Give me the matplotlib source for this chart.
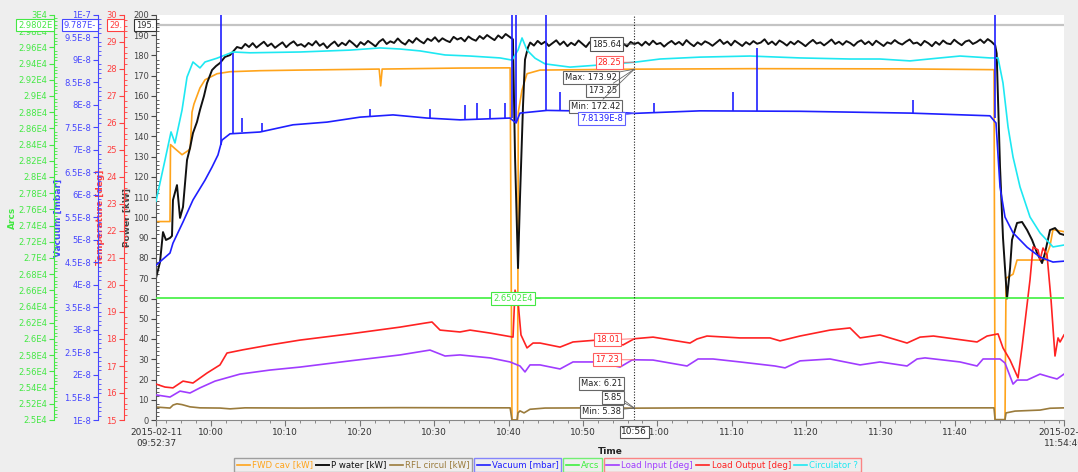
import numpy as np
import pandas as pd
import matplotlib
matplotlib.use('Agg')
import matplotlib.pyplot as plt
import matplotlib.dates as mdates
from matplotlib.ticker import MultipleLocator, FixedLocator, FuncFormatter
from matplotlib.transforms import blended_transform_factory

# time of every sample is given in minutes after the start of the record
T0 = pd.Timestamp('2015-02-11 09:52:37')
T_SPAN = 122.05
CURSOR = 64.3

# FWD cav [kW]
fwd_t = [0.0, 1.88, 1.95, 2.55, 3.5, 4.3, 4.6, 4.84, 5.1, 5.91, 6.59, 8.2, 9.95, 13.98,
         19.36, 30.0, 30.2, 30.4, 40.86, 47.6, 47.85, 48.6, 48.7, 49.2, 49.87, 51.62,
         64.3, 80.0, 100.0, 112.64, 112.78, 114.12, 114.26, 115.2, 115.74, 119.5,
         120.17, 120.57, 122.05]
fwd = [98, 98, 136, 134, 131, 133, 134, 152, 156, 164, 168, 171, 172, 172.5,
       172.8, 173.3, 165, 173.3, 173.8, 173.9, 0, 0, 152, 163, 171, 172.8,
       173.25, 173.5, 173.4, 173.0, 0, 0, 70, 72, 79, 79,
       86, 94, 93]

# P water [kW]: ramp-up, two noisy runs sampled every 0.5 min, trip and shutdown
pw_start_t = [0.0, 0.54, 0.94, 1.34, 1.88, 2.15, 2.28, 2.82, 3.23, 3.63, 4.17, 4.57,
              4.97, 5.51, 5.91, 6.45, 6.86, 7.53, 8.07, 8.6, 9.27, 9.95, 10.89, 11.5]
pw_start = [70.1, 78.0, 92.8, 88.9, 89.9, 90.9, 108.6, 116.0, 99.8, 105.2, 128.4, 134.3,
            141.7, 147.2, 153.1, 160.0, 166.4, 172.8, 174.8, 176.3, 179.3, 180.2, 184.2, 183.5]
pw_run1_start = 12.0
pw_run1 = [185.7, 184.2, 186.1, 183.9, 185.4, 186.8, 184.6, 185.9, 183.8, 185.2, 186.5, 184.1,
           185.8, 187.0, 184.9, 185.6, 184.3, 186.2, 185.0, 187.1, 184.8, 186.0, 183.7, 185.5,
           186.9, 184.6, 186.3, 185.1, 187.4, 185.9, 184.2, 186.6, 185.3, 187.2, 185.9, 184.5,
           186.8, 188.1, 185.7, 187.0, 186.2, 188.4, 186.5, 185.4, 187.7, 186.3, 188.6, 187.1,
           186.0, 188.3, 187.2, 189.0, 186.8, 188.5, 187.4, 186.6, 189.2, 187.9, 188.7, 187.0,
           189.4, 188.1, 187.3, 189.6, 188.2, 190.1, 188.8, 187.6, 189.9, 188.5, 190.6, 189.3]
pw_trip_t = [47.98, 48.26, 48.66, 48.93, 49.33, 49.6, 50.0]
pw_trip = [188.0, 130.0, 75.0, 110.0, 155.0, 178.0, 184.0]
pw_run2_start = 50.3
pw_run2 = [186.4, 184.9, 187.2, 185.6, 186.8, 184.7, 186.1, 187.5, 185.3, 186.9,
           184.6, 186.3, 185.1, 187.4, 185.8, 184.2, 186.6, 185.0, 187.1, 185.7,
           186.9, 184.8, 186.2, 185.3, 187.0, 185.9, 184.5, 186.7, 185.64, 186.4,
           184.9, 186.8, 185.2, 187.3, 185.6, 186.2, 184.4, 186.0, 187.2, 185.5,
           186.7, 185.1, 187.6, 185.9, 184.6, 186.5, 185.3, 187.0, 186.1, 184.8,
           186.3, 187.8, 185.7, 186.9, 185.0, 187.3, 186.0, 184.7, 186.6, 185.4,
           187.1, 185.8, 186.4, 188.0, 185.6, 186.9, 185.2, 187.4, 186.3, 184.9,
           186.8, 185.5, 187.2, 186.0, 184.6, 186.3, 187.7, 185.9, 186.5, 185.0,
           186.4, 187.9, 185.7, 186.8, 185.3, 187.1, 186.2, 184.8, 186.6, 187.5,
           185.6, 186.9, 185.1, 187.3, 186.0, 184.7, 186.5, 185.8, 187.6, 186.2,
           185.4, 186.8, 187.9, 185.9, 186.4, 185.0, 187.2, 186.1, 184.6, 186.7,
           185.3, 187.4, 186.0, 185.6, 187.8, 186.3, 185.1, 186.9, 187.5, 185.7,
           186.6, 187.9, 186.2, 188.1, 186.8]
pw_cursor_idx = 28
pw_end_t = [112.8, 113.0, 113.45, 113.85, 114.39, 114.8, 115.06, 115.74, 116.41, 117.09,
            117.76, 118.43, 119.1, 119.5, 120.17, 120.84, 121.5, 122.05]
pw_end = [185.0, 181.0, 125.0, 90.0, 60.0, 75.0, 89.0, 97.3, 97.8, 93.8,
          88.9, 82.5, 77.5, 82.5, 93.8, 94.8, 92.0, 91.4]

# RFL circul [kW]
rfl_t = [0.0, 1.88, 2.3, 2.82, 3.5, 4.57, 5.91, 8.6, 9.95, 11.96, 19.36, 32.8, 47.6,
         47.85, 48.53, 48.66, 48.93, 49.47, 50.27, 52.3, 59.68, 64.3, 73.12, 112.64,
         112.78, 114.12, 114.26, 115.47, 118.83, 120.17, 122.05]
rfl = [6.4, 5.9, 7.4, 8.0, 7.6, 6.5, 6.0, 5.9, 5.5, 6.0, 5.9, 6.1, 6.0,
       0.0, 0.0, 3.5, 4.5, 3.5, 5.3, 5.9, 6.0, 5.85, 6.0, 6.0,
       0.2, 0.2, 3.5, 4.4, 4.9, 5.8, 6.0]

# Vacuum [1E-8 mbar]
vac_t = [0.0, 1.88, 2.28, 3.63, 4.97, 6.59, 7.53, 8.33, 8.87, 9.95, 13.98, 18.42, 22.99,
         27.42, 31.86, 36.43, 40.86, 47.58, 48.4, 48.93, 52.57, 59.68, 64.3, 73.12, 86.57,
         101.35, 112.1, 112.91, 113.45, 114.12, 115.2, 117.09, 118.83, 120.57, 122.05]
vac = [4.44, 4.71, 4.93, 5.4, 5.89, 6.33, 6.62, 6.89, 7.22, 7.36, 7.4, 7.56, 7.62,
       7.73, 7.78, 7.71, 7.67, 7.71, 7.6, 7.82, 7.88, 7.86, 7.8139, 7.87, 7.86,
       7.82, 7.76, 7.6, 6.18, 5.51, 5.16, 4.84, 4.62, 4.51, 4.53]
# pressure bursts
burst_t = [8.74, 10.35, 11.56, 14.25, 28.77, 36.83, 41.54, 43.15, 44.9, 46.91, 47.85, 48.39,
           52.42, 54.31, 66.94, 77.56, 80.79, 101.76, 112.78]
burst_base = [7.1, 7.36, 7.4, 7.4, 7.73, 7.71, 7.67, 7.67, 7.69, 7.71, 7.7, 7.6,
              7.88, 7.87, 7.85, 7.87, 7.87, 7.82, 7.7]
burst_top = [10.0, 9.16, 7.71, 7.6, 7.9, 7.9, 8.0, 8.04, 7.9, 8.04, 10.0, 10.0,
             10.0, 8.29, 8.04, 8.29, 9.27, 8.11, 10.0]

# Arcs
arcs_t = [0.0, 122.05]
arcs = [26502, 26502]

# Load Input [deg]
lin_t = [0.0, 1.88, 3.23, 4.57, 5.91, 7.93, 11.29, 15.32, 19.36, 26.08, 32.8, 36.83, 38.85,
         40.86, 44.9, 47.58, 48.93, 49.6, 50.27, 51.62, 54.31, 56.05, 59.28, 62.37, 63.98,
         64.3, 66.81, 71.38, 72.86, 74.87, 78.5, 83.2, 84.55, 86.57, 90.6, 94.64, 97.32,
         100.95, 102.3, 103.37, 108.07, 110.36, 111.17, 113.45, 114.12, 115.2, 115.74,
         117.09, 118.83, 120.17, 121.11, 122.05]
lin = [15.93, 15.85, 16.07, 16.0, 16.19, 16.44, 16.7, 16.85, 16.96, 17.19, 17.41, 17.59, 17.37,
       17.41, 17.3, 17.15, 17.0, 16.78, 17.04, 17.04, 16.89, 17.15, 17.15, 16.96, 17.22,
       17.23, 17.22, 17.0, 17.26, 17.26, 17.15, 17.0, 16.93, 17.19, 17.26, 17.04, 17.15,
       17.0, 17.26, 17.3, 17.15, 17.0, 17.26, 17.26, 17.11, 16.33, 16.48,
       16.48, 16.7, 16.59, 16.52, 16.7]

# Load Output [deg]
lout_t = [0.0, 1.21, 2.28, 3.63, 4.97, 6.86, 8.6, 9.54, 11.69, 15.32, 19.36, 26.08, 32.8,
          36.16, 37.1, 38.18, 40.86, 42.21, 44.9, 47.99, 48.26, 48.66, 49.06, 49.87, 50.68,
          51.62, 54.31, 56.05, 59.28, 62.77, 64.3, 66.81, 71.78, 72.72, 74.06, 78.5, 82.53,
          83.88, 86.57, 90.6, 93.29, 94.64, 97.32, 100.95, 102.7, 104.5, 110.36, 111.71,
          113.18, 113.85, 114.8, 115.87, 116.41, 117.48, 117.89, 118.56, 118.83, 119.23,
          119.77, 120.31, 120.84, 121.25, 121.52, 122.05]
lout = [16.33, 16.22, 16.19, 16.44, 16.37, 16.74, 17.04, 17.48, 17.6, 17.78, 17.96, 18.19, 18.44,
        18.59, 18.63, 18.33, 18.26, 18.33, 18.22, 18.07, 19.81, 19.4, 18.15, 17.67, 17.85,
        17.85, 17.7, 17.89, 17.96, 17.78, 18.01, 18.07, 17.85, 18.0, 18.11, 18.04, 18.04,
        17.93, 18.11, 18.33, 18.41, 18.04, 18.15, 17.85, 18.07, 18.11, 17.89, 18.11,
        18.19, 17.67, 17.22, 16.56, 17.7, 20.19, 21.41, 21.3, 20.93, 21.37,
        21.11, 19.44, 17.37, 18.04, 17.89, 18.15]

# Circulator ? [deg]
circ_t = [0.0, 1.21, 2.02, 2.55, 3.5, 4.17, 4.97, 5.91, 6.59, 8.2, 10.35, 12.64, 19.36,
          26.08, 30.11, 32.8, 35.49, 38.85, 42.21, 46.24, 47.85, 48.66, 49.2, 49.87, 50.95,
          52.29, 55.65, 59.68, 64.3, 67.75, 73.12, 79.85, 86.57, 93.29, 97.32, 101.35,
          105.39, 108.07, 112.1, 113.18, 113.85, 114.53, 115.2, 116.14, 117.48, 118.83,
          120.57, 122.05]
circ = [23.1, 24.63, 25.67, 25.26, 26.48, 27.7, 28.26, 28.04, 28.26, 28.4, 28.63, 28.6, 28.63,
        28.7, 28.78, 28.74, 28.67, 28.52, 28.48, 28.41, 28.33, 28.7, 29.15, 28.7, 28.4,
        28.19, 28.07, 28.15, 28.25, 28.37, 28.44, 28.48, 28.41, 28.37, 28.37, 28.3,
        28.41, 28.48, 28.41, 28.41, 27.48, 25.85, 24.74, 23.63, 22.52, 21.93,
        21.41, 21.48]

ORANGE = '#ffa41b'
BLACK = '#111111'
BROWN = '#9a7b3c'
BLUE = '#1f1fff'
GREEN = '#3ef03e'
PURPLE = '#a03cff'
RED = '#ff2222'
CYAN = '#1ee8f2'

T0_NUM = mdates.date2num(T0.to_pydatetime())


def tnum(minutes):
    return T0_NUM + np.asarray(minutes, dtype=float) / 1440.0


def at_cursor(t, v):
    return v[t.index(CURSOR)]


def sci(v, pos=None, digits=2):
    if v == 0:
        return '0'
    e = int(np.floor(np.log10(abs(v)) + 1e-9))
    m = ('%.*f' % (digits, v / 10.0 ** e)).rstrip('0').rstrip('.')
    return '%sE%d' % (m, e)


pw_t = np.concatenate([pw_start_t,
                       pw_run1_start + 0.5 * np.arange(len(pw_run1)),
                       pw_trip_t,
                       pw_run2_start + 0.5 * np.arange(len(pw_run2)),
                       pw_end_t])
pw = np.concatenate([pw_start, pw_run1, pw_trip, pw_run2, pw_end])

fig = plt.figure(figsize=(10.78, 4.72), dpi=100, facecolor='#eeeeee')
ax = fig.add_axes([156 / 1078, 1 - 420 / 472, 908 / 1078, 405 / 472])
ax.set_facecolor('white')
ax_t = ax.twinx()
ax_v = ax.twinx()
ax_a = ax.twinx()

lw = 1.2
l_fwd, = ax.plot(tnum(fwd_t), fwd, color=ORANGE, lw=lw, label='FWD cav [kW]')
l_pw, = ax.plot(tnum(pw_t), pw, color=BLACK, lw=1.4, label='P water [kW]')
l_rfl, = ax.plot(tnum(rfl_t), rfl, color=BROWN, lw=lw, label='RFL circul [kW]')
l_lin, = ax_t.plot(tnum(lin_t), lin, color=PURPLE, lw=lw, label='Load Input [deg]')
l_lout, = ax_t.plot(tnum(lout_t), lout, color=RED, lw=lw, label='Load Output [deg]')
l_circ, = ax_t.plot(tnum(circ_t), circ, color=CYAN, lw=lw, label='Circulator ?')
l_vac, = ax_v.plot(tnum(vac_t), np.array(vac) * 1e-8, color=BLUE, lw=lw, label='Vacuum [mbar]')
ax_v.vlines(tnum(burst_t), np.array(burst_base) * 1e-8, np.array(burst_top) * 1e-8,
            color=BLUE, lw=lw)
l_arc, = ax_a.plot(tnum(arcs_t), arcs, color=GREEN, lw=lw, label='Arcs')

ax.set_xlim(tnum(0), tnum(T_SPAN))
ax.set_ylim(0, 200)
ax_t.set_ylim(15, 30)
ax_v.set_ylim(1e-8, 1e-7)
ax_a.set_ylim(25000, 30000)

# time axis
major = pd.date_range('2015-02-11 10:00', '2015-02-11 11:40', freq='10min')
xt = [tnum(0)] + list(mdates.date2num(major.to_pydatetime())) + [tnum(T_SPAN)]
xl = ['2015-02-11\n09:52:37'] + [d.strftime('%H:%M') for d in major] + ['2015-02-11\n11:54:40']
ax.set_xticks(xt)
ax.set_xticklabels(xl)
minor = pd.date_range('2015-02-11 09:54', '2015-02-11 11:54', freq='2min')
ax.xaxis.set_minor_locator(FixedLocator(mdates.date2num(minor.to_pydatetime())))
ax.tick_params(axis='x', which='major', length=4, color='#777777', labelsize=6.5,
               labelcolor='#333333', pad=2)
ax.tick_params(axis='x', which='minor', length=2, color='#777777')
ax.set_xlabel('Time', fontsize=6.5, fontweight='bold', color='#222222')
ax.xaxis.set_label_coords(0.5, -0.066)

for s in ('top', 'right'):
    ax.spines[s].set_visible(False)
ax.spines['bottom'].set_color('#888888')
ax.spines['left'].set_color('#555555')


def style_y(a, color, label, major_loc, minor_loc, fmt=None):
    a.yaxis.set_major_locator(major_loc)
    a.yaxis.set_minor_locator(minor_loc)
    if fmt is not None:
        a.yaxis.set_major_formatter(FuncFormatter(fmt))
    a.tick_params(axis='y', which='major', direction='out', length=3.5, color=color,
                  labelsize=6, labelcolor=color, pad=1.5)
    a.tick_params(axis='y', which='minor', direction='in', length=2, color=color)
    a.set_ylabel(label, fontsize=6.5, fontweight='bold', color=color, labelpad=1)


def move_left(a, pos, color):
    a.yaxis.tick_left()
    a.yaxis.set_label_position('left')
    for s in ('top', 'right', 'bottom'):
        a.spines[s].set_visible(False)
    a.spines['left'].set_visible(True)
    a.spines['left'].set_position(('axes', pos))
    a.spines['left'].set_color(color)


C_POW, C_TMP, C_VAC, C_ARC = '#444444', '#ff4040', '#4646ff', '#44e844'
POS_TMP, POS_VAC, POS_ARC = -32 / 908, -58 / 908, -102 / 908
style_y(ax, C_POW, 'Power [kW]', MultipleLocator(10), MultipleLocator(2))
move_left(ax_t, POS_TMP, C_TMP)
style_y(ax_t, C_TMP, 'Temperature [deg]', MultipleLocator(1), MultipleLocator(0.2))
move_left(ax_v, POS_VAC, C_VAC)
style_y(ax_v, C_VAC, 'Vacuum [mbar]', FixedLocator(np.arange(2, 21) * 0.5e-8),
        FixedLocator(np.arange(10, 101) * 1e-9), sci)
move_left(ax_a, POS_ARC, C_ARC)
style_y(ax_a, C_ARC, 'Arcs', MultipleLocator(200), MultipleLocator(40), sci)

# horizontal cursor and its readout on every scale
H_CURSOR = 195
ax.axhline(H_CURSOR, color='#c4c4c4', lw=1.6, zorder=1)
ytr = blended_transform_factory(ax.transAxes, ax.transData)
for pos, txt, col in [(0, '195.', '#333333'), (POS_TMP, '29.', C_TMP),
                      (POS_VAC, '9.787E-', C_VAC), (POS_ARC, '2.9802E', C_ARC)]:
    ax_a.text(pos - 0.002, H_CURSOR, txt, transform=ytr, ha='right', va='center',
              fontsize=6, color=col, clip_on=False, zorder=30,
              bbox=dict(boxstyle='square,pad=0.2', fc='white', ec=col, lw=0.8))

# vertical cursor with value readouts
cx = tnum(CURSOR)
ax_a.axvline(cx, color='#222222', ls=(0, (1, 1.5)), lw=0.8, zorder=5)


def readout(axis, value, text, dx, dy, color, ec):
    ax_a.annotate(text, xy=(cx, value), xycoords=axis.transData, xytext=(dx, dy),
                  textcoords='offset pixels', ha='right', va='center', fontsize=6,
                  color=color, zorder=30, annotation_clip=False,
                  bbox=dict(boxstyle='square,pad=0.25', fc='white', ec=ec, lw=0.8),
                  arrowprops=dict(arrowstyle='-', color=ec, lw=0.6, shrinkA=0, shrinkB=0))


pw_c = pw_run2[pw_cursor_idx]
fwd_c = at_cursor(fwd_t, fwd)
rfl_c = at_cursor(rfl_t, rfl)
readout(ax, pw_c, '%.2f' % pw_c, -13, 0, '#222222', '#555555')
readout(ax_t, at_cursor(circ_t, circ), '%.2f' % at_cursor(circ_t, circ), -13, 0, RED, '#ff6060')
readout(ax, fwd_c, 'Max: 173.92', -17, -8, '#222222', '#666666')
readout(ax, fwd_c, '%.2f' % fwd_c, -17, -21, '#222222', '#666666')
readout(ax, fwd_c, 'Min: 172.42', -14, -37, '#222222', '#666666')
vac_c = at_cursor(vac_t, vac)
readout(ax_v, vac_c * 1e-8, '%.4fE-8' % vac_c, -11, -5, BLUE, '#6060ff')
readout(ax_t, at_cursor(lout_t, lout), '%.2f' % at_cursor(lout_t, lout), -15, -1, RED, '#ff6060')
readout(ax_t, at_cursor(lin_t, lin), '%.2f' % at_cursor(lin_t, lin), -15, 0, RED, '#ff6060')
readout(ax, rfl_c, 'Max: 6.21', -12, 25, '#222222', '#666666')
readout(ax, rfl_c, '%.2f' % rfl_c, -12, 11, '#222222', '#666666')
readout(ax, rfl_c, 'Min: 5.38', -13, -3, '#222222', '#666666')

ax_a.annotate(sci(arcs[0], digits=4), xy=(tnum(51.62), arcs[0]), xycoords=ax_a.transData,
              xytext=(-7, 0), textcoords='offset pixels', ha='right', va='center',
              fontsize=6, color=C_ARC, zorder=30,
              bbox=dict(boxstyle='square,pad=0.25', fc='white', ec=C_ARC, lw=0.8),
              arrowprops=dict(arrowstyle='-', color=C_ARC, lw=0.6, shrinkA=0, shrinkB=0))

cursor_label = (T0 + pd.to_timedelta(CURSOR, unit='m')).strftime('%H:%M')
ax_a.annotate(cursor_label, xy=(cx, 0), xycoords=blended_transform_factory(ax.transData, ax.transAxes),
              xytext=(0, -12), textcoords='offset pixels', ha='center', va='center',
              fontsize=6.5, color='#222222', zorder=30, annotation_clip=False,
              bbox=dict(boxstyle='square,pad=0.2', fc='white', ec='#555555', lw=0.8))

# grouped legends below the time axis, laid side by side
groups = [([l_fwd, l_pw, l_rfl], '#8a8a8a'),
          ([l_vac], '#6a6aff'),
          ([l_arc], '#55ee55'),
          ([l_lin, l_lout, l_circ], '#ff6a6a')]
renderer = fig.canvas.get_renderer()
x0 = 234
for handles, ec in groups:
    leg = fig.legend(handles=handles, loc='upper left', bbox_to_anchor=(x0 / 1078, 1 - 458 / 472),
                     ncol=len(handles), fontsize=6.2, frameon=True, fancybox=False,
                     handlelength=1.5, handletextpad=0.25, columnspacing=0.4,
                     borderpad=0.3, borderaxespad=0, labelcolor='linecolor')
    leg.get_frame().set_edgecolor(ec)
    leg.get_frame().set_facecolor('none')
    leg.get_frame().set_linewidth(1.0)
    x0 += leg.get_window_extent(renderer).width + 2

fig.savefig('out.png', dpi=100, facecolor=fig.get_facecolor())
